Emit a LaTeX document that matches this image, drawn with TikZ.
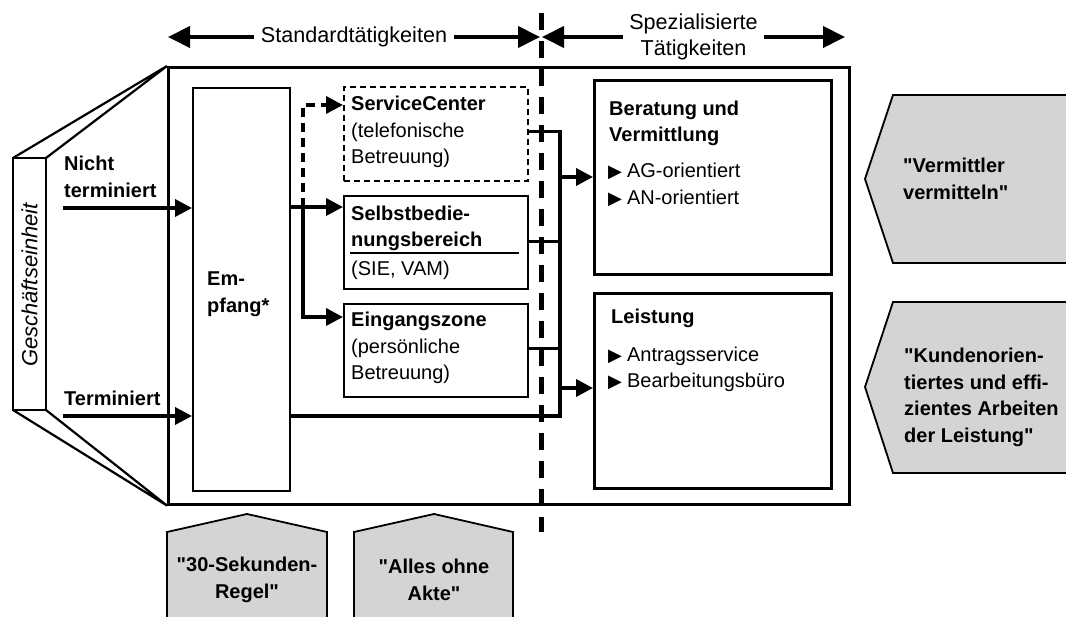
\documentclass[tikz,border=0pt]{standalone}
\usepackage{fontspec}
\setmainfont{Liberation Sans}[Ligatures=TeXOff]
\newfontfamily\djfont{DejaVu Sans}
\usetikzlibrary{arrows.meta,calc}
\newcommand\fs{\fontsize{20}{26.5}\selectfont}
\newcommand\fl{\fontsize{21.6}{26.5}\selectfont}
\newcommand\blt{{\djfont\fontsize{18}{18}\selectfont ▶}\hspace{5pt}}
\definecolor{pgray}{RGB}{212,212,212}
\begin{document}
\begin{tikzpicture}[x=1pt,y=-1pt,
  every node/.style={font=\fs, inner sep=0pt},
  box/.style={draw, line width=2.4pt, inner sep=0pt, anchor=north west},
  conn/.style={line width=3.6pt},
  arr/.style={-{Triangle[length=17pt,width=17pt]}},
  bigarr/.style={line width=4pt,{Triangle[length=22pt,width=21pt]}-{Triangle[length=22pt,width=21pt]}},
  pent/.style={draw, line width=1.8pt, fill=pgray},
  txt/.style={anchor=west, align=left}]
\useasboundingbox (0,0) rectangle (1066,617);

% top range arrows
\coordinate (sl) at (168,37); \coordinate (sr) at (540,37);
\coordinate (pl) at (542,37); \coordinate (pr) at (845,37);
\draw[bigarr] (sl) -- (sr) node[midway, fill=white, inner xsep=7pt, inner ysep=2pt, font=\fl] (std) {Standardtätigkeiten};
\draw[bigarr] (pl) -- (pr) node[midway, fill=white, inner xsep=6pt, inner ysep=2pt, align=center, font=\fl] (spez) {Spezialisierte\\Tätigkeiten};

% outer box
\node[box, line width=2.6pt, minimum width=681pt, minimum height=437pt] (outer) at (167,66) {};

% Geschaeftseinheit face
\draw[line width=2.2pt] (13,158) rectangle (46,410);
\draw[line width=2.2pt] (13,158) -- (outer.north west) (46,158) -- (outer.north west);
\draw[line width=2.2pt] (13,410) -- (outer.south west) (46,410) -- (outer.south west);
\node[rotate=90, font=\fontsize{22}{26}\selectfont\itshape] (ge) at (29.5,285) {Geschäftseinheit};

% boxes
\node[box, minimum width=97pt, minimum height=403pt] (emp) at (192,87) {};
\node[box, dashed, dash pattern=on 6pt off 4pt, minimum width=184pt, minimum height=94pt] (sc) at (343,86) {};
\node[box, minimum width=184pt, minimum height=93pt] (sel) at (343,195) {};
\node[box, minimum width=184pt, minimum height=93pt] (ez) at (343,303) {};
\node[box, line width=2.6pt, minimum width=237pt, minimum height=194pt] (ber) at (593,79) {};
\node[box, line width=2.6pt, minimum width=237pt, minimum height=195pt] (lei) at (593,292) {};

% divider
\draw[line width=5pt, dash pattern=on 17pt off 11pt] (541,13) -- (541,532);

% texts
\node[txt, font=\fs\bfseries] (nt) at (64,177) {Nicht\\terminiert};
\node[txt, font=\fs\bfseries] (tm) at (64,398) {Terminiert};
\node[txt, font=\fs\bfseries] (emt) at (207,294) {Em-\\pfang*};
\node[txt] (sct) at (351,132) {\textbf{ServiceCenter}\\(telefonische\\Betreuung)};
\node[txt, font=\fs\bfseries] (selt) at (351,228.5) {Selbstbedie-\\nungsbereich};
\draw[line width=2pt] (350,253) -- (519,253);
\node[txt] (selt2) at (351,270) {(SIE, VAM)};
\node[txt] (ezt) at (351,348) {\textbf{Eingangszone}\\(persönliche\\Betreuung)};
\node[txt, font=\fs\bfseries] (bert) at (609,123.5) {Beratung und\\Vermittlung};
\node[txt] (berb) at (608,185) {\blt AG-orientiert\\\blt AN-orientiert};
\node[txt, font=\fs\bfseries] (leit) at (611,318) {Leistung};
\node[txt] (leib) at (608,369.5) {\blt Antragsservice\\\blt Bearbeitungsbüro};

% connectors
\coordinate (j1) at (303,207);
\coordinate (scin) at (303,105);
\coordinate (ezin) at (303,317);
\draw[conn, arr] (emp.east |- j1) -- (sel.west |- j1);
\draw[conn, dash pattern=on 9pt off 6pt, arr] (j1) -- (scin) -- (sc.west |- scin);
\draw[conn, arr] (j1) -- (ezin) -- (ez.west |- ezin);

\coordinate (b1) at (560,132);
\coordinate (b2) at (560,242);
\coordinate (b3) at (560,349);
\coordinate (b4) at (560,416);
\coordinate (a1) at (560,177);
\coordinate (a2) at (560,388);
\draw[conn, line width=3pt] (sc.east |- b1) -- (b1);
\draw[conn, line width=3pt] (sel.east |- b2) -- (b2);
\draw[conn, line width=3pt] (ez.east |- b3) -- (b3);
\draw[conn, line cap=rect] (b1) -- (b4);
\draw[conn] (emp.east |- b4) -- (b4);
\draw[conn, arr] (a1) -- (ber.west |- a1);
\draw[conn, arr] (a2) -- (lei.west |- a2);

\coordinate (nts) at (63,208);
\coordinate (tms) at (63,416);
\draw[conn, arr] (nts) -- (emp.west |- nts);
\draw[conn, arr] (tms) -- (emp.west |- tms);

% right pentagons
\draw[pent] (893,95) -- (1075,95) -- (1075,263) -- (893,263) -- (865,179) -- cycle;
\draw[pent] (893,302) -- (1075,302) -- (1075,473) -- (893,473) -- (865,387) -- cycle;
\node[txt, font=\fs\bfseries] (vv) at (903,179) {"Vermittler\\vermitteln"};
\node[txt, font=\fs\bfseries] (ku) at (904,397.5) {"Kundenorien-\\tiertes und effi-\\zientes Arbeiten\\der Leistung"};

% bottom pentagons
\draw[pent] (167,625) -- (167,532) -- (247,514) -- (327,532) -- (327,625);
\draw[pent] (354,625) -- (354,532) -- (434,514) -- (513,532) -- (513,625);
\node[align=center, font=\fs\bfseries] (sek) at (247,580) {"30-Sekunden-\\Regel"};
\node[align=center, font=\fs\bfseries] (akte) at (434,580) {"Alles ohne\\Akte"};
\end{tikzpicture}
\end{document}
